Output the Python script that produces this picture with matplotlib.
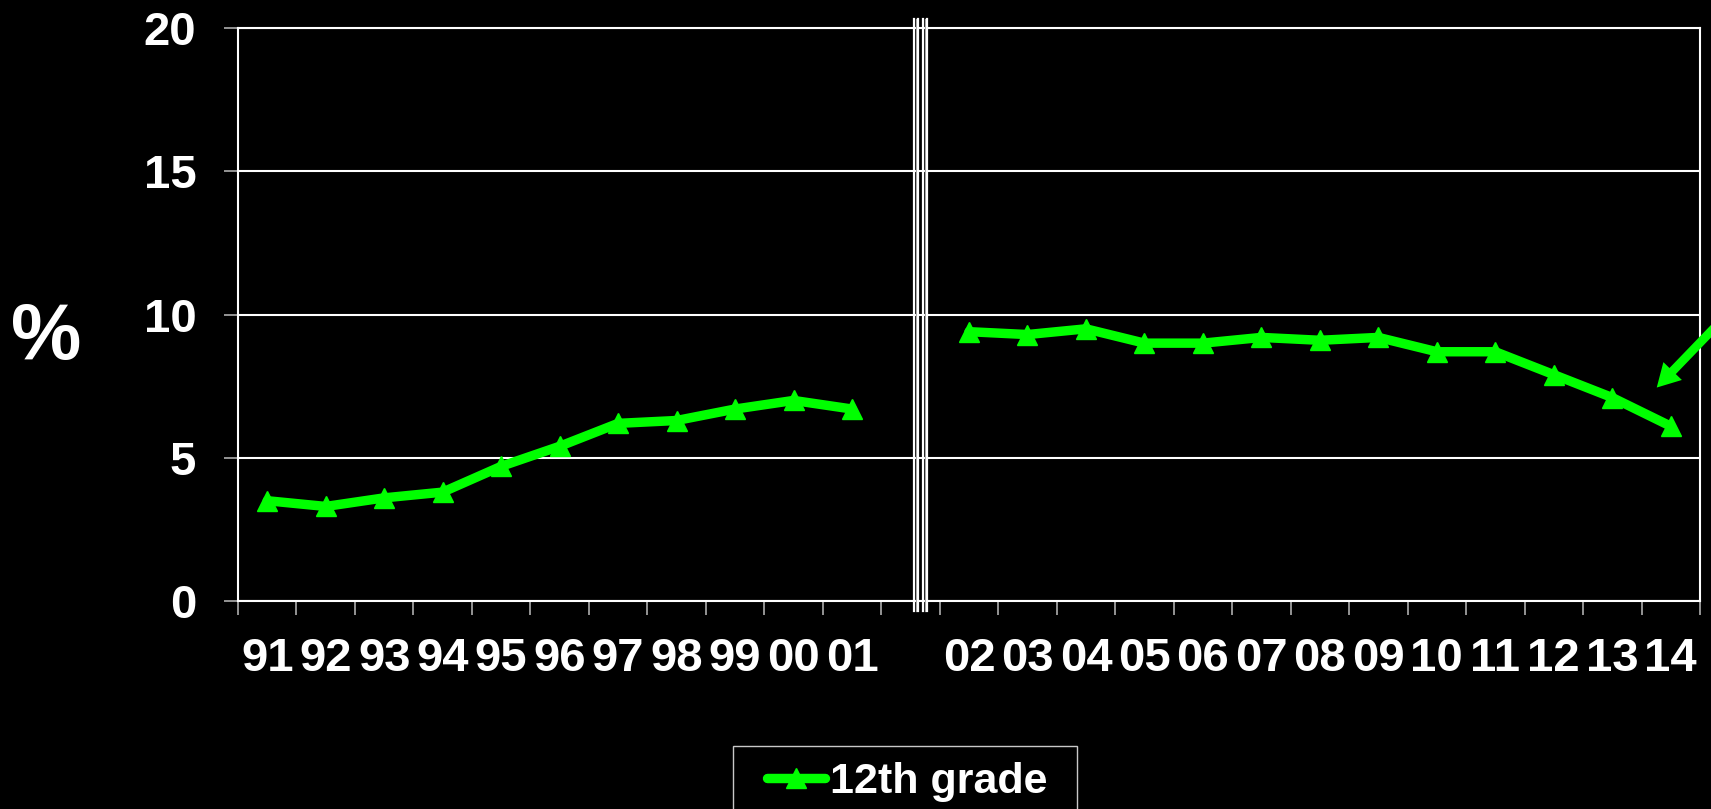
import numpy as np
import matplotlib
matplotlib.use("Agg")
import matplotlib.pyplot as plt
from matplotlib.patches import Rectangle, ArrowStyle
import matplotlib.transforms as mtransforms

# Survey years, split by the 2002 methodology change
years_early = ["91", "92", "93", "94", "95", "96", "97", "98", "99", "00", "01"]
years_late = ["02", "03", "04", "05", "06", "07", "08", "09", "10", "11", "12", "13", "14"]

# Percent of 12th graders
pct_early = [3.5, 3.3, 3.6, 3.8, 4.7, 5.4, 6.2, 6.3, 6.7, 7.0, 6.7]
pct_late = [9.4, 9.3, 9.5, 9.0, 9.0, 9.2, 9.1, 9.2, 8.7, 8.7, 7.9, 7.1, 6.1]

y_ticks = [0, 5, 10, 15, 20]
series_name = "12th grade"

GREEN = "#00FF00"
FG = "white"
TICK_GREY = "#BDBDBD"

plt.rcParams["font.family"] = ["Liberation Sans", "DejaVu Sans"]
plt.rcParams["font.weight"] = "bold"

W, H = 1711, 809
fig = plt.figure(figsize=(W / 100, H / 100), dpi=100, facecolor="black")
ax = fig.add_axes([238 / W, 1 - 601 / H, (1700 - 238) / W, (601 - 28) / H])
ax.set_facecolor("black")

# one empty category slot separates the two periods
labels = years_early + [""] + years_late
n = len(labels)
x_early = np.arange(len(years_early))
x_late = np.arange(len(years_early) + 1, n)

line_kw = dict(color=GREEN, lw=6.8, marker="^", ms=15, mfc=GREEN, mec=GREEN,
               solid_capstyle="round", solid_joinstyle="round", zorder=5)
ax.plot(x_early, pct_early, label=series_name, **line_kw)
ax.plot(x_late, pct_late, **line_kw)

ax.set_xlim(-0.5, n - 0.5)
ax.set_ylim(y_ticks[0], y_ticks[-1])

# category boundaries carry the tick marks, centres carry the labels
ax.set_xticks(np.arange(-0.5, n, 1.0))
ax.set_xticklabels([])
ax.set_xticks(np.arange(n), minor=True)
ax.set_xticklabels(labels, minor=True)
ax.tick_params(axis="x", which="major", direction="out", length=10, width=1.1,
               color=TICK_GREY)
ax.tick_params(axis="x", which="minor", length=0, pad=26, labelsize=34,
               labelcolor=FG)

ax.set_yticks(y_ticks)
ax.tick_params(axis="y", direction="out", length=10, width=1.1, color=TICK_GREY,
               pad=20, labelsize=34, labelcolor=FG)

ax.yaxis.grid(True, color=FG, lw=1.5)
ax.set_axisbelow(True)
for side in ["left", "right", "bottom", "top"]:
    ax.spines[side].set_color(FG)
    ax.spines[side].set_linewidth(1.5)

# axis-break marker in the empty slot
break_x = len(years_early) + 0.18
brk = mtransforms.blended_transform_factory(ax.transData, ax.transAxes)
for off_px, col, lw in [(-7, FG, 1.6), (-5.2, "#A0A0A0", 0.9), (-3.3, FG, 1.6),
                        (2.0, FG, 1.6), (3.9, "#A0A0A0", 0.9), (5.8, FG, 1.6)]:
    t = brk + mtransforms.ScaledTranslation(off_px / 100, 0, fig.dpi_scale_trans)
    ax.plot([break_x, break_x], [-0.017, 1.016], color=col, lw=lw,
            transform=t, clip_on=False, zorder=6)

# y-axis unit
fig.text(46 / W, 1 - 359 / H, "%", fontsize=57, fontweight="bold", color=FG,
         ha="center", va="baseline")

# pointer at the latest value
ax.annotate("", xy=(n - 1.24, 7.45), xycoords="data",
            xytext=(1745 / W, 1 - 296 / H), textcoords="figure fraction",
            arrowprops=dict(arrowstyle=ArrowStyle.Simple(head_length=16.5,
                                                         head_width=18.5,
                                                         tail_width=6.3),
                            mutation_scale=1, shrinkA=0, shrinkB=0,
                            color=GREEN, lw=0),
            annotation_clip=False, zorder=7)

# legend
leg = fig.legend(loc="center left", bbox_to_anchor=(767 / W, 1 - 782 / H),
                 frameon=False, borderpad=0, borderaxespad=0, handlelength=1.35,
                 handletextpad=0.12, prop={"size": 31, "weight": "bold"},
                 labelcolor=FG)
fig.add_artist(Rectangle((733 / W, -0.05), (1077 - 733) / W, (1 - 746 / H) + 0.05,
                         transform=fig.transFigure, fill=False,
                         edgecolor="#C8C8C8", lw=1))

fig.savefig("out.png", dpi=100, facecolor="black")
